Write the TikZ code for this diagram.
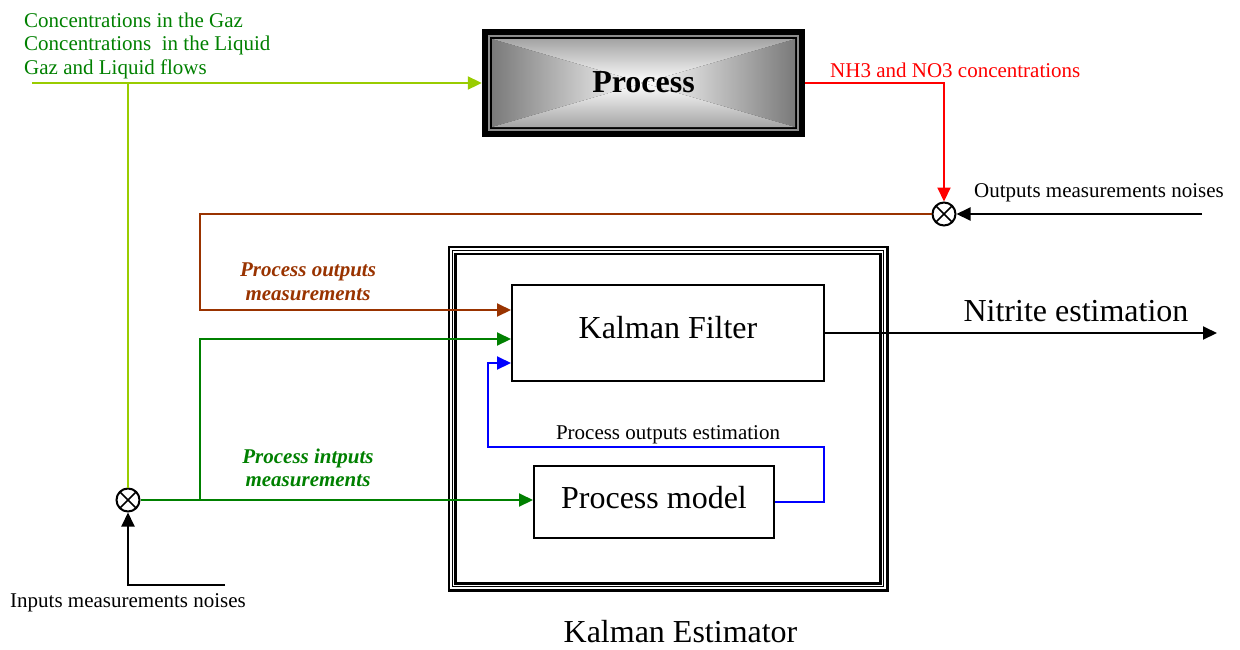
\documentclass[tikz,border=0pt]{standalone}
\usepackage{fontspec}
\setmainfont{Liberation Serif}
\usetikzlibrary{arrows.meta,calc}
\definecolor{lgreen}{HTML}{99CC00}
\definecolor{dgreen}{HTML}{008000}
\definecolor{brn}{HTML}{993300}
\definecolor{pblue}{HTML}{0000FF}
\definecolor{pred}{HTML}{FF0000}
\definecolor{edgeL}{HTML}{7A7A7A}
\definecolor{edgeT}{HTML}{A4A4A4}
\definecolor{frameg}{HTML}{8C8C8C}
\begin{document}
\begin{tikzpicture}[x=1pt,y=-1pt,
  >={Triangle[length=14pt,width=13pt]},
  wire/.style={line width=2pt},
  small/.style={font=\fontsize{21}{24}\selectfont, inner sep=0pt},
  big/.style={font=\fontsize{32}{36}\selectfont, inner sep=0pt},
  lab/.style={font=\fontsize{21}{23.7}\selectfont\bfseries\itshape, inner sep=0pt, align=center},
  blockbox/.style={draw, line width=2pt, inner sep=0pt},
  sumj/.style={circle, draw, line width=2pt, minimum size=23pt, inner sep=0pt, fill=white,
    path picture={\draw[line width=1.6pt]
      ($(path picture bounding box.center)+(-8.2,-8.2)$) -- ($(path picture bounding box.center)+(8.2,8.2)$)
      ($(path picture bounding box.center)+(-8.2,8.2)$) -- ($(path picture bounding box.center)+(8.2,-8.2)$);}}
]
\useasboundingbox (0,0) rectangle (1240,649);

% ---------- Process block ----------
\node[fill=black, minimum width=323pt, minimum height=108pt, inner sep=0pt] (proc) at (643.5,83) {};
\draw[line width=2pt, frameg] (489,36) rectangle (798,130);
\shade[left color=edgeL, right color=white] (492,39) -- (492,127) -- (643.5,83) -- cycle;
\shade[left color=white, right color=edgeL] (795,39) -- (795,127) -- (643.5,83) -- cycle;
\shade[top color=edgeT, bottom color=white] (492,39) -- (795,39) -- (643.5,83) -- cycle;
\shade[top color=white, bottom color=edgeT] (492,127) -- (795,127) -- (643.5,83) -- cycle;
\node[big, font=\fontsize{32}{36}\selectfont\bfseries, anchor=base] (proctxt) at (643.5,92) {Process};

% ---------- Kalman estimator ----------
\node[minimum width=438pt, minimum height=343pt, inner sep=0pt] (est) at (668,418.6) {};
\draw[line width=2.6pt] (est.north west) rectangle (est.south east);
\draw[line width=1.2pt] (452.6,250.8) rectangle (883.6,586.4);
\draw[line width=2.6pt] (455.6,253.8) rectangle (880.6,583.4);
\node[big, anchor=base] (esttxt) at (680.5,642) {Kalman Estimator};

\node[blockbox, minimum width=312pt, minimum height=96pt] (kf) at (668,333) {};
\node[big, anchor=base] (kftxt) at (668,338) {Kalman Filter};
\node[blockbox, minimum width=240pt, minimum height=72pt] (pm) at (654,502) {};
\node[big, anchor=base] (pmtxt) at (654,508) {Process model};

% ---------- summing junctions ----------
\node[sumj] (sj1) at (128,500) {};
\node[sumj] (sj2) at (944,214) {};

% ---------- coordinates ----------
\coordinate (gin) at (32,83);
\coordinate (gsplit) at (128,83);
\coordinate (nin) at (225,585);
\coordinate (gb) at (200,500);
\coordinate (bc) at (200,214);
\coordinate (nout) at (1202,214);
\coordinate (b1) at (824,447);
\coordinate (b2) at (488,447);
\coordinate (nitout) at (1217,333);

% ---------- connectors ----------
\draw[wire, lgreen, ->] (gin) -- (proc.west);
\draw[wire, lgreen] (gsplit) -- (sj1.north);
\draw[wire, black, ->] (nin) -- (nin -| sj1) -- (sj1.south);
\draw[wire, dgreen, ->] (sj1.east) -- (sj1.east -| pm.west);
\draw[wire, dgreen, ->] (gb) |- ($(kf.west)+(0,6)$);
\draw[wire, pred, ->] (proc.east) -| (sj2.north);
\draw[wire, black, ->] (nout) -- (sj2.east);
\draw[wire, brn, ->] (sj2.west) -- (bc) |- ($(kf.west)+(0,-23)$);
\draw[wire, pblue, ->] (pm.east) -| (b1) -- (b2) |- ($(kf.west)+(0,30)$);
\draw[wire, black, ->] (kf.east) -- (nitout);

% ---------- labels ----------
\node[small, dgreen, align=left, anchor=north west, font=\fontsize{21}{23.8}\selectfont] (intxt) at (24,12.3)
  {Concentrations in the Gaz\\Concentrations~ in the Liquid\\Gaz and Liquid flows};
\node[small, pred, anchor=base west] (nh3txt) at (830,77) {NH3 and NO3 concentrations};
\node[small, anchor=base west] (onoise) at (974,197.5) {Outputs measurements noises};
\node[small, anchor=base west] (inoise) at (10,607) {Inputs measurements noises};
\node[small, anchor=base] (poetxt) at (668,439) {Process outputs estimation};
\node[big, anchor=base] (nittxt) at (1076,321) {Nitrite estimation};
\node[lab, brn] (pomtxt) at (308,282) {Process outputs\\measurements};
\node[lab, dgreen] (pimtxt) at (308,467.7) {Process intputs\\measurements};
\end{tikzpicture}
\end{document}
